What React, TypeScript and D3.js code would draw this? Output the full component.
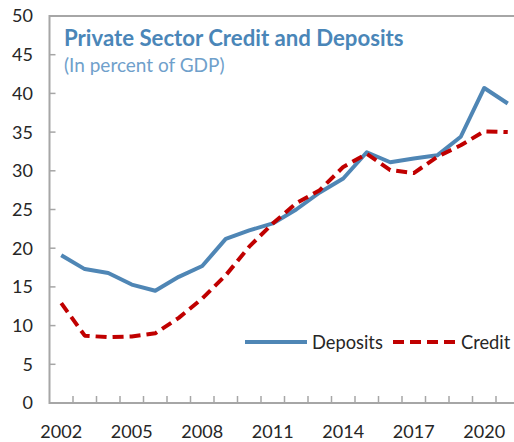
import React from 'react';
import * as d3 from 'd3';

const years = d3.range(2002, 2022).map(String);
const deposits = [19.1, 17.3, 16.8, 15.3, 14.5, 16.3, 17.7, 21.2, 22.3, 23.2, 25.0, 27.2, 29.0, 32.4, 31.1, 31.6, 32.0, 34.4, 40.7, 38.7];
const credit = [12.9, 8.7, 8.5, 8.6, 9.0, 11.0, 13.5, 16.5, 20.2, 23.2, 25.8, 27.5, 30.5, 32.2, 30.1, 29.7, 31.8, 33.3, 35.1, 35.0];
const yTicks = [0, 5, 10, 15, 20, 25, 30, 35, 40, 45, 50];
const xLabels = ['2002', '2005', '2008', '2011', '2014', '2017', '2020'];

const W = 514;
const H = 442;
const left = 49.5;
const right = 519.5;
const top = 16;
const bottom = 403;
const FONT = 'Lato, "Open Sans", sans-serif';

export default function App() {
  const x = d3.scaleBand<string>().domain(years).range([left, right]);
  const y = d3.scaleLinear().domain([0, 50]).range([bottom, top]);
  const cx = (yr: string) => (x(yr) as number) + x.bandwidth() / 2;

  const line = d3.line<number>()
    .x((_, i) => cx(years[i]))
    .y(d => y(d));

  const boundaries = years.slice(1).map(yr => x(yr) as number);

  return (
    <svg width={W} height={H} style={{ position: 'absolute', left: 0, top: 0, background: '#fff' }}>
      <rect x={left} y={top} width={right - left} height={bottom - top} fill="none" stroke="#A6A6A6" strokeWidth={2} />
      {yTicks.map(t => (
        <g key={t}>
          <line x1={left} x2={left + 6} y1={y(t)} y2={y(t)} stroke="#A6A6A6" strokeWidth={1.5} />
          <text x={33} y={y(t)} dy="0.36em" textAnchor="end" fontFamily={FONT} fontSize={18} fill="#262626">{t}</text>
        </g>
      ))}
      {boundaries.map((b, i) => (
        <line key={i} x1={b} x2={b} y1={bottom} y2={bottom - 7} stroke="#A6A6A6" strokeWidth={1.5} />
      ))}
      {xLabels.map(l => (
        <text key={l} x={cx(l)} y={438} textAnchor="middle" fontFamily={FONT} fontSize={18} fill="#262626">{l}</text>
      ))}
      <path d={line(deposits) || ''} fill="none" stroke="#4F86B5" strokeWidth={4} strokeLinejoin="round" />
      <path d={line(credit) || ''} fill="none" stroke="#C00000" strokeWidth={4} strokeDasharray="11,6" strokeLinejoin="round" />

      <text x={64} y={46} fontFamily={FONT} fontSize={22.2} fontWeight="bold" fill="#4A86B8">Private Sector Credit and Deposits</text>
      <text x={64} y={72} fontFamily={FONT} fontSize={19} fill="#6FA0CB">(In percent of GDP)</text>

      <line x1={245} x2={307} y1={342} y2={342} stroke="#4F86B5" strokeWidth={4} />
      <text x={312} y={342} dy="0.36em" fontFamily={FONT} fontSize={18.3} fill="#262626">Deposits</text>
      <line x1={393} x2={456} y1={342} y2={342} stroke="#C00000" strokeWidth={4} strokeDasharray="11,6" />
      <text x={461} y={342} dy="0.36em" fontFamily={FONT} fontSize={18.3} fill="#262626">Credit</text>
    </svg>
  );
}
